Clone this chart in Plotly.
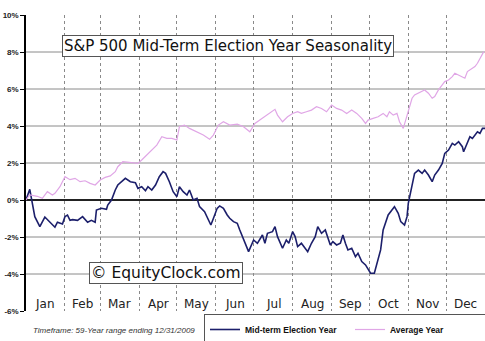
import plotly.graph_objects as go

# Day-of-year positions (0 = Jan 1) and cumulative % gain for each series
midterm_days = [0, 3, 7, 11, 15, 19, 23, 25, 29, 31, 33, 35, 37, 41, 45, 49, 52, 55, 56, 60,
                64, 65, 68, 71, 73, 79, 83, 87, 89, 92, 95, 97, 100, 103, 106, 109, 111, 114,
                117, 120, 122, 125, 128, 130, 133, 136, 138, 142, 145, 147, 149, 152, 154, 157,
                160, 162, 165, 168, 170, 173, 177, 181, 184, 188, 190, 192, 196, 198, 200, 204,
                207, 209, 212, 214, 216, 219, 222, 224, 227, 230, 232, 235, 238, 240, 242, 244,
                247, 250, 252, 254, 256, 259, 262, 264, 267, 270, 272, 274, 277, 279, 281, 282,
                284, 287, 288, 291, 293, 296, 298, 301, 303, 304, 305, 307, 309, 312, 315, 317,
                320, 323, 325, 328, 331, 333, 336, 339, 341, 344, 347, 348, 351, 353, 355, 359,
                361, 363, 365]
midterm_pct = [0.0, 0.58, -0.9, -1.44, -0.92, -1.2, -1.47, -1.2, -1.3, -0.9, -0.82, -1.1, -1.06,
               -1.1, -0.9, -1.2, -1.1, -1.2, -0.54, -0.45, -0.5, -0.27, 0.0, 0.54, 0.81, 1.17,
               0.99, 0.94, 0.63, 0.72, 0.5, 0.72, 0.54, 0.81, 1.26, 1.53, 1.44, 0.99, 0.45, 0.18,
               0.72, 0.45, 0.27, 0.54, 0.0, 0.09, -0.36, -0.63, -1.08, -1.35, -1.0, -0.45, -0.32,
               -0.45, -0.81, -0.99, -1.17, -1.26, -1.62, -2.16, -2.79, -2.16, -2.34, -1.89, -2.34,
               -1.8, -1.71, -1.44, -1.98, -2.61, -2.16, -2.34, -1.71, -1.98, -2.52, -2.34, -2.61,
               -2.79, -2.34, -1.98, -1.44, -1.8, -1.62, -2.07, -2.43, -2.25, -2.43, -2.34, -1.89,
               -2.34, -2.7, -2.61, -3.06, -2.88, -3.33, -3.51, -3.78, -3.96, -3.96, -3.51, -3.0,
               -2.7, -1.62, -1.08, -0.81, -0.54, -0.36, -0.72, -1.17, -1.35, -0.9, -0.18, 0.18,
               0.9, 1.44, 1.62, 1.44, 1.62, 1.35, 0.99, 1.35, 1.62, 1.98, 2.52, 2.7, 3.06, 2.97,
               3.15, 2.88, 2.61, 3.15, 3.42, 3.33, 3.69, 3.6, 3.87, 3.87]

average_days = [0, 3, 9, 13, 17, 21, 23, 27, 31, 35, 39, 43, 47, 51, 55, 59, 63, 67, 71, 73, 77,
                81, 85, 89, 92, 96, 100, 104, 108, 112, 116, 120, 122, 126, 130, 136, 141, 146,
                149, 153, 157, 162, 168, 173, 178, 182, 186, 190, 194, 198, 200, 204, 208, 212,
                216, 219, 223, 227, 231, 235, 239, 243, 247, 251, 255, 259, 263, 267, 270, 272,
                276, 280, 284, 287, 289, 292, 295, 297, 300, 302, 304, 307, 309, 312, 315, 317,
                320, 323, 325, 328, 331, 333, 336, 339, 341, 344, 347, 349, 351, 355, 357, 359,
                362, 364]
average_pct = [0.0, 0.27, 0.2, 0.09, 0.45, 0.27, 0.36, 0.72, 1.26, 1.1, 1.17, 0.99, 1.04, 0.9,
               0.81, 1.08, 1.22, 1.3, 1.53, 1.8, 2.07, 2.03, 2.0, 1.98, 2.16, 2.43, 2.7, 2.97,
               3.42, 3.33, 3.33, 3.24, 3.96, 4.05, 3.87, 3.69, 3.51, 3.28, 3.51, 4.05, 4.23,
               4.05, 4.1, 3.96, 3.69, 4.14, 4.32, 4.5, 4.68, 4.9, 4.59, 4.23, 4.5, 4.68, 4.77,
               4.68, 4.77, 4.86, 5.04, 4.95, 4.77, 5.13, 4.95, 4.86, 4.68, 4.86, 4.68, 4.41,
               4.14, 4.32, 4.41, 4.5, 4.68, 4.5, 4.77, 4.59, 4.68, 4.23, 3.87, 4.32, 4.86, 5.5,
               5.68, 5.77, 5.86, 5.95, 5.77, 5.5, 5.59, 5.95, 6.22, 6.4, 6.49, 6.67, 6.85, 6.76,
               6.67, 6.58, 6.94, 7.12, 7.21, 7.39, 7.75, 8.02]

month_names = ["Jan", "Feb", "Mar", "Apr", "May", "Jun", "Jul", "Aug", "Sep", "Oct", "Nov", "Dec"]
month_starts = [0, 31, 59, 90, 120, 151, 181, 212, 243, 273, 304, 334, 365]

y_ticks = [-6, -4, -2, 0, 2, 4, 6, 8, 10]
grid_levels = [-4, -2, 2, 4, 6, 8]

NAVY = "#1c1f6b"
ORCHID = "#e0a6e6"
FONT = "DejaVu Sans"

fig = go.Figure()
fig.add_trace(go.Scatter(x=midterm_days, y=midterm_pct, mode="lines", name="Mid-term Election Year",
                         line=dict(color=NAVY, width=1.6)))
fig.add_trace(go.Scatter(x=average_days, y=average_pct, mode="lines", name="Average Year",
                         line=dict(color=ORCHID, width=1.2)))

# horizontal grid lines at each 2% step
for lvl in grid_levels:
    fig.add_shape(type="line", xref="paper", x0=0, x1=1, yref="y", y0=lvl, y1=lvl,
                  line=dict(color="#8a8a8a", width=1), layer="below")

# month names sit inside the plot, centred between the dotted month lines
for i, name in enumerate(month_names):
    mid = (month_starts[i] + month_starts[i + 1]) / 2
    fig.add_annotation(x=mid, y=-5.62, text=name, showarrow=False, xref="x", yref="y",
                       font=dict(family=FONT, size=12, color="#222222"))

fig.add_annotation(x=160.6, y=8.32, xref="x", yref="y", showarrow=False,
                   text="S&P 500 Mid-Term Election Year Seasonality",
                   font=dict(family=FONT, size=15, color="#111111"),
                   bgcolor="white", bordercolor="#555555", borderwidth=1, borderpad=1)
fig.add_annotation(x=111, y=-3.95, xref="x", yref="y", showarrow=False,
                   text="© EquityClock.com",
                   font=dict(family=FONT, size=15.5, color="#111111"),
                   bgcolor="white", bordercolor="#555555", borderwidth=1, borderpad=1)
fig.add_annotation(x=(114 - 26) / 459, y=(311 - 330) / 296, xref="paper", yref="paper",
                   xanchor="center", yanchor="middle",
                   showarrow=False, text="<i>Timeframe: 59-Year range ending 12/31/2009</i>",
                   font=dict(family="Liberation Sans", size=8, color="#333333"))

fig.update_layout(
    width=485, height=341,
    margin=dict(l=26, r=0, t=15, b=30, autoexpand=False),
    paper_bgcolor="white", plot_bgcolor="white",
    showlegend=True,
    legend=dict(orientation="h", x=(204 - 26) / 459, y=(311 - 314) / 296,
                xanchor="left", yanchor="top",
                bordercolor="#555555", borderwidth=1, bgcolor="white",
                font=dict(family="Liberation Sans", size=8.5, color="#111111", weight="bold"),
                entrywidth=100, itemwidth=30, tracegroupgap=0),
    xaxis=dict(range=[0, 365], tickvals=month_starts, showticklabels=False,
               showgrid=True, gridcolor="#8a8a8a", griddash="dot", gridwidth=1,
               zeroline=False, showline=False, ticks=""),
    yaxis=dict(range=[-6, 10], tickvals=y_ticks, ticktext=[f"{v}%" for v in y_ticks],
               showgrid=False, zeroline=True, zerolinecolor="#222222", zerolinewidth=2,
               showline=True, linecolor="black", linewidth=1.5,
               ticks="outside", ticklen=4, tickcolor="black",
               tickfont=dict(family="Liberation Sans", size=8, color="#222222", weight="bold")),
)

fig.write_html("out.html")
